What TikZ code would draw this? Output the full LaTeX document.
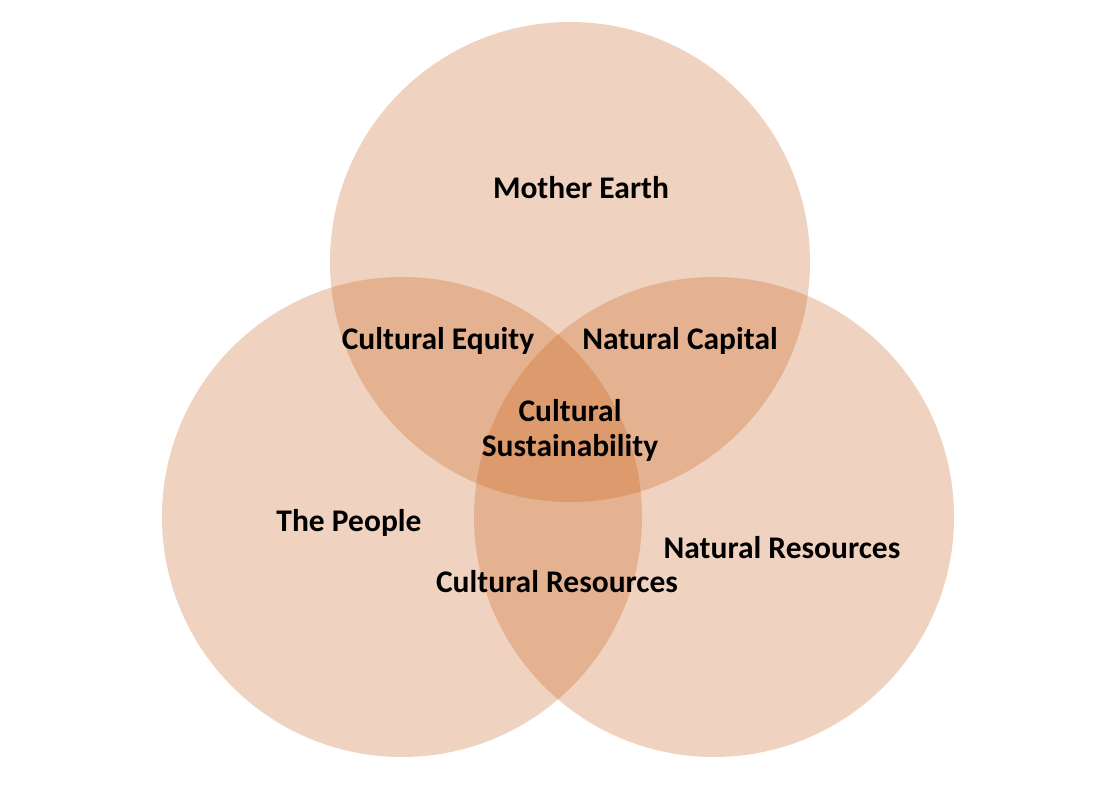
\documentclass[tikz,border=0pt]{standalone}
\usepackage{fontspec}
\setmainfont{Carlito}
\usetikzlibrary{positioning}
\definecolor{vennorange}{RGB}{197,90,17}
\tikzset{
  ring/.style={circle,fill=vennorange,fill opacity=0.27,minimum size=480pt,
               inner sep=0pt},
  lbl/.style={font=\fontsize{31.5}{36}\selectfont\bfseries,text=black,
              anchor=base,inner sep=0pt,align=center},
}
\begin{document}
\begin{tikzpicture}[x=1pt,y=1pt]
\useasboundingbox (0,0) rectangle (1104,806);

\node[ring] (earth)  at (570,544) {};
\node[ring] (people) at (402,289) {};
\node[ring] (nature) at (714,289) {};

\node[lbl] (mother)  at (581,607) {Mother Earth};
\node[lbl] (equity)  at (438,456) {Cultural Equity};
\node[lbl] (capital) at (680,456) {Natural Capital};
\node[lbl] (cult)    at (570,384) {Cultural};
\node[lbl] (sustain) at (570,349) {Sustainability};
\node[lbl] (thepeople) at (349,274) {The People};
\node[lbl] (natres)  at (782,247) {Natural Resources};
\node[lbl] (cultres) at (557,213) {Cultural Resources};

\end{tikzpicture}
\end{document}
